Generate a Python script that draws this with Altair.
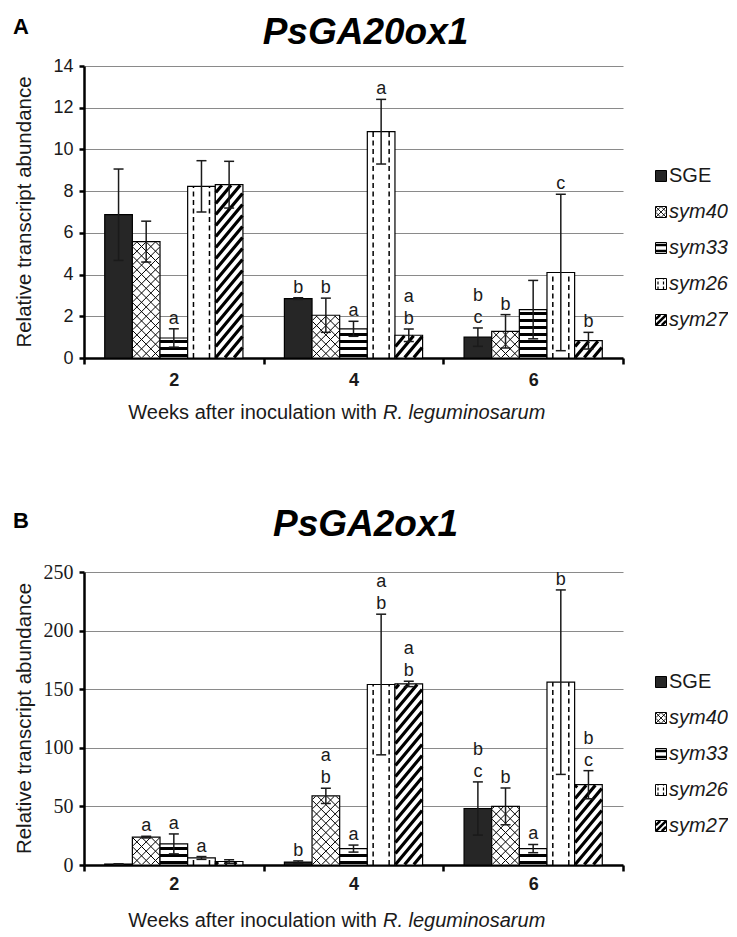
import math
import altair as alt
import pandas as pd

# ---------------- data ----------------
weeks = ["2", "4", "6"]
series = ["SGE", "sym40", "sym33", "sym26", "sym27"]

# Panel A - PsGA20ox1 (means, +/- error, letters) per week 2/4/6
a_sge = [6.87, 2.85, 1.00]
a_sym40 = [5.58, 2.05, 1.28]
a_sym33 = [0.96, 1.40, 2.32]
a_sym26 = [8.23, 10.85, 4.10]
a_sym27 = [8.31, 1.09, 0.83]
a_sge_err = [2.19, 0.04, 0.44]
a_sym40_err = [0.98, 0.82, 0.80]
a_sym33_err = [0.44, 0.36, 1.40]
a_sym26_err = [1.23, 1.55, 3.75]
a_sym27_err = [1.12, 0.30, 0.40]
a_sge_lab = ["", "b", "b\nc"]
a_sym40_lab = ["", "b", "b"]
a_sym33_lab = ["a", "a", ""]
a_sym26_lab = ["", "a", "c"]
a_sym27_lab = ["", "a\nb", "b"]

# Panel B - PsGA2ox1
b_sge = [0.8, 2.5, 48.2]
b_sym40 = [23.8, 59.0, 50.0]
b_sym33 = [18.0, 14.0, 14.0]
b_sym26 = [6.0, 154.0, 156.0]
b_sym27 = [3.0, 154.5, 68.5]
b_sge_err = [0.2, 1.0, 22.7]
b_sym40_err = [0.7, 6.5, 15.7]
b_sym33_err = [8.5, 3.0, 3.5]
b_sym26_err = [1.2, 60.0, 78.7]
b_sym27_err = [1.5, 2.3, 12.0]
b_sge_lab = ["", "b", "b\nc"]
b_sym40_lab = ["a", "a\nb", "b"]
b_sym33_lab = ["a", "a", "a"]
b_sym26_lab = ["a", "a\nb", "b"]
b_sym27_lab = ["", "a\nb", "b\nc"]

# ---------------- style ----------------
FONT = "Liberation Sans"
SERIF = "Liberation Serif"
INK = "#1a1a1a"
W = 539
FILL = {"SGE": "#262626", "sym40": "white", "sym33": "white", "sym26": "white", "sym27": "white"}
SW = {"SGE": 1.0, "sym40": 1.0, "sym33": 3.0, "sym26": 1.5, "sym27": 3.2}
SW_LEG = {"SGE": 1.0, "sym40": 0.9, "sym33": 2.5, "sym26": 1.2, "sym27": 2.6}


def seg(x1, y1, x2, y2):
    return f"M{x1:.2f},{y1:.2f}L{x2:.2f},{y2:.2f}"


def diag(w, h, sp, m, up, inset=0.5):
    xl, xr = -w / 2 + inset, w / 2 - inset
    yt, yb = -h / 2 + inset, h / 2 - inset
    if xr <= xl or yb <= yt:
        return ""
    s = -1.0 if up else 1.0
    cs = [y - s * m * x for x in (xl, xr) for y in (yt, yb)]
    c0 = yb - s * m * (xl if up else xr)
    k0 = math.floor((min(cs) - c0) / sp)
    k1 = math.ceil((max(cs) - c0) / sp)
    out = []
    for k in range(k0, k1 + 1):
        c = c0 + k * sp
        xa = (yt - c) / (s * m)
        xb = (yb - c) / (s * m)
        lo = max(xl, min(xa, xb))
        hi = min(xr, max(xa, xb))
        if hi - lo > 0.4:
            out.append(seg(lo, c + s * m * lo, hi, c + s * m * hi))
    return "".join(out)


def hstripes(w, h, sp, t):
    out = []
    y = h / 2 - t / 2 - 1.0
    while y - t / 2 >= -h / 2 - 0.01:
        out.append(seg(-w / 2, y, w / 2, y))
        y -= sp
    return "".join(out)


def vdashes(w, h, xs, dash, gap):
    out = []
    for x in xs:
        y = h / 2
        while y > -h / 2 + 0.5:
            y2 = max(y - dash, -h / 2)
            out.append(seg(x, y, x, y2))
            y -= dash + gap
    return "".join(out)


def pattern(s, w, h):
    if s == "sym40":
        return diag(w, h, 9.3, 1.0, True) + diag(w, h, 9.3, 1.0, False)
    if s == "sym33":
        return hstripes(w, h, 7.0, 3.0)
    if s == "sym26":
        return vdashes(w, h, [-8.0, 8.0], 5.0, 3.5)
    if s == "sym27":
        return diag(w, h, 11.0, 1.2, True)
    return ""


def legend_pattern(s, w):
    if s == "sym40":
        return diag(w, w, 5.5, 1.0, True, 0.3) + diag(w, w, 5.5, 1.0, False, 0.3)
    if s == "sym33":
        return hstripes(w, w, 6.0, 3.0)
    if s == "sym26":
        return vdashes(w, w, [-3.0, 2.5], 3.0, 2.0)
    if s == "sym27":
        return diag(w, w, 6.0, 1.0, True, 0.3)
    return ""


LEG_ROWS = [110, 146, 182, 218, 254]  # legend row offsets below the plot top


def panel(vals, errs, labs, ymax, ystep, H, title, letter, tick_font, tick_fs,
          title_y, letter_y, xlab_pad, xtitle_y):
    pxu = H / ymax
    bw = (W / 3) / 6.5
    rows, lrows = [], []
    for s, vl, el, ll in zip(series, vals, errs, labs):
        for i, wk in enumerate(weeks):
            v, e = vl[i], el[i]
            rows.append(dict(week=wk, series=s, value=v, lo=v - e, hi=v + e,
                             mid=v / 2, fill=FILL[s], path=pattern(s, bw, v * pxu), sw=SW[s]))
            if ll[i]:
                parts = ll[i].split("\n")
                for j, p in enumerate(reversed(parts)):
                    lrows.append(dict(week=wk, series=s, letter=p, k=j, ly=max(v, v + e)))
    df = pd.DataFrame(rows)
    ldf = pd.DataFrame(lrows)

    yscale = alt.Scale(domain=[0, ymax], nice=False, zero=True)
    xscale = alt.Scale(paddingInner=0, paddingOuter=0)
    x_axis = alt.Axis(title=None, labelAngle=0, labelFont=FONT, labelFontWeight="bold",
                      labelFontSize=18, labelColor=INK, domainColor="black",
                      domainWidth=2.5, tickColor="black", tickWidth=2.5, tickSize=6,
                      tickBand="extent", labelPadding=xlab_pad, grid=False)
    y_axis = alt.Axis(values=list(range(0, int(ymax) + 1, ystep)), title=None,
                      grid=True, gridColor="#8a8a8a", gridWidth=1.2,
                      domainColor="black", domainWidth=2.5, tickColor="black",
                      tickWidth=2.5, tickSize=5, labelFont=tick_font,
                      labelFontSize=tick_fs, labelColor=INK, labelPadding=6)

    def X():
        return alt.X("week:N", sort=weeks, scale=xscale, axis=x_axis)

    def Y(f):
        return alt.Y(f, scale=yscale, axis=y_axis)

    XO = alt.XOffset("series:N", sort=series, scale=alt.Scale(paddingInner=0, paddingOuter=0.75))
    base = alt.Chart(df)

    bars = base.mark_bar(stroke="black", strokeWidth=1.2, opacity=1).encode(
        x=X(), xOffset=XO, y=Y("value:Q"), fill=alt.Fill("fill:N", scale=None))
    hatch = base.transform_filter("datum.path != ''").mark_point(
        filled=False, opacity=1, size=4, stroke="black", strokeCap="butt").encode(
        x=X(), xOffset=XO, y=Y("mid:Q"),
        shape=alt.Shape("path:N", scale=None), strokeWidth=alt.StrokeWidth("sw:Q", scale=None))
    err = base.mark_rule(color=INK, strokeWidth=1.5).encode(
        x=X(), xOffset=XO, y=Y("lo:Q"), y2="hi:Q")
    cap_hi = base.mark_tick(color=INK, thickness=1.5, size=10, opacity=1).encode(
        x=X(), xOffset=XO, y=Y("hi:Q"))
    cap_lo = base.mark_tick(color=INK, thickness=1.5, size=10, opacity=1).encode(
        x=X(), xOffset=XO, y=Y("lo:Q"))
    lbase = alt.Chart(ldf)
    let0 = lbase.transform_filter("datum.k == 0").mark_text(
        font=FONT, fontSize=18, color=INK, baseline="alphabetic", dy=-5).encode(
        x=X(), xOffset=XO, y=Y("ly:Q"), text="letter:N")
    let1 = lbase.transform_filter("datum.k == 1").mark_text(
        font=FONT, fontSize=18, color=INK, baseline="alphabetic", dy=-27).encode(
        x=X(), xOffset=XO, y=Y("ly:Q"), text="letter:N")

    # legend
    lw = 11
    leg = pd.DataFrame({
        "series": series,
        "ly": [(H - r) / pxu for r in LEG_ROWS],
        "fill": [FILL[s] for s in series],
        "path": [legend_pattern(s, lw) for s in series],
        "sw": [SW_LEG[s] for s in series],
        "box": [f"M{-lw/2},{-lw/2}L{lw/2},{-lw/2}L{lw/2},{lw/2}L{-lw/2},{lw/2}Z"] * 5,
    })
    lb = alt.Chart(leg)
    lx = W + 38
    leg_box = lb.mark_point(filled=True, opacity=1, size=4, stroke="black", strokeWidth=1).encode(
        x=alt.value(lx), y=Y("ly:Q"),
        shape=alt.Shape("box:N", scale=None), fill=alt.Fill("fill:N", scale=None))
    leg_hatch = lb.transform_filter("datum.path != ''").mark_point(
        filled=False, opacity=1, size=4, stroke="black", strokeCap="butt").encode(
        x=alt.value(lx), y=Y("ly:Q"),
        shape=alt.Shape("path:N", scale=None), strokeWidth=alt.StrokeWidth("sw:Q", scale=None))
    leg_txt1 = lb.transform_filter("datum.series == 'SGE'").mark_text(
        font=FONT, fontSize=20, color=INK, align="left", baseline="middle").encode(
        x=alt.value(lx + 8), y=Y("ly:Q"), text="series:N")
    leg_txt2 = lb.transform_filter("datum.series != 'SGE'").mark_text(
        font=FONT, fontSize=20, fontStyle="italic", color=INK, align="left",
        baseline="middle").encode(
        x=alt.value(lx + 8), y=Y("ly:Q"), text="series:N")

    # texts (titles)
    one = alt.Chart(pd.DataFrame({"t": [title], "l": [letter],
                                  "yt": ["Relative transcript abundance"],
                                  "x1": ["Weeks after inoculation with"],
                                  "x2": ["R. leguminosarum"]}))
    t_title = one.mark_text(font=FONT, fontSize=37, fontWeight="bold", fontStyle="italic",
                            color="black", align="center", baseline="alphabetic").encode(
        x=alt.value(W / 2 + 12), y=alt.value(title_y), text="t:N")
    t_letter = one.mark_text(font=FONT, fontSize=22, fontWeight="bold", color="black",
                             align="center", baseline="alphabetic").encode(
        x=alt.value(-63), y=alt.value(letter_y), text="l:N")
    t_ytitle = one.mark_text(font=FONT, fontSize=20.5, color=INK, angle=270, align="center",
                             baseline="middle").encode(
        x=alt.value(-59), y=alt.value(H / 2), text="yt:N")
    t_x1 = one.mark_text(font=FONT, fontSize=20, color=INK, align="right",
                         baseline="alphabetic").encode(
        x=alt.value(293), y=alt.value(H + xtitle_y), text="x1:N")
    t_x2 = one.mark_text(font=FONT, fontSize=20, fontStyle="italic", color=INK, align="left",
                         baseline="alphabetic").encode(
        x=alt.value(299), y=alt.value(H + xtitle_y), text="x2:N")

    return alt.layer(bars, hatch, err, cap_hi, cap_lo, let0, let1,
                     leg_box, leg_hatch, leg_txt1, leg_txt2,
                     t_title, t_letter, t_ytitle, t_x1, t_x2).properties(width=W, height=H)


panelA = panel([a_sge, a_sym40, a_sym33, a_sym26, a_sym27],
               [a_sge_err, a_sym40_err, a_sym33_err, a_sym26_err, a_sym27_err],
               [a_sge_lab, a_sym40_lab, a_sym33_lab, a_sym26_lab, a_sym27_lab],
               14, 2, 292, "PsGA20ox1", "A", FONT, 18, -22, -32, 7, 61)
panelB = panel([b_sge, b_sym40, b_sym33, b_sym26, b_sym27],
               [b_sge_err, b_sym40_err, b_sym33_err, b_sym26_err, b_sym27_err],
               [b_sge_lab, b_sym40_lab, b_sym33_lab, b_sym26_lab, b_sym27_lab],
               250, 50, 293, "PsGA2ox1", "B", SERIF, 20, -36, -44, 4, 62)

chart = alt.vconcat(panelA, panelB, spacing=83).properties(
    padding={"left": 5, "top": 6, "right": 0, "bottom": 0},
    background="white",
).configure_view(stroke=None)

chart.save("out.html", embed_options={"renderer": "svg", "actions": False})
